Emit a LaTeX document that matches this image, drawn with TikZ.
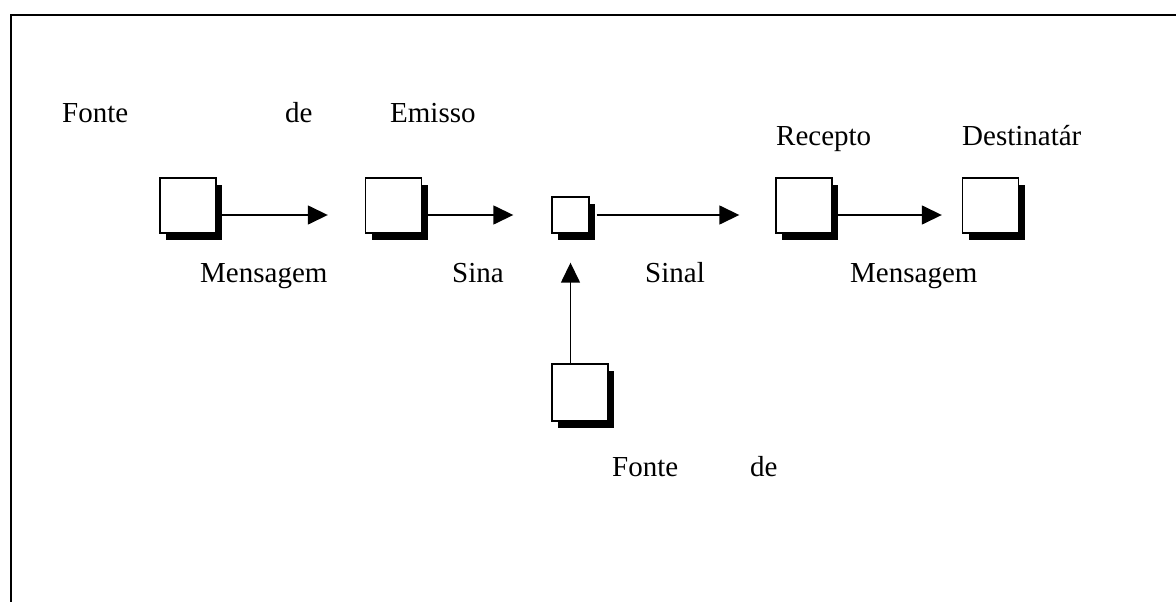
\documentclass[tikz,border=0pt]{standalone}
\usepackage{fontspec}
\setmainfont{Liberation Serif}
\usetikzlibrary{arrows.meta,shadows}
\begin{document}
\begin{tikzpicture}[x=1pt,y=-1pt,
  blk/.style={draw=black,line width=1.4pt,fill=white,inner sep=0pt,
    drop shadow={shadow xshift=6pt,shadow yshift=-7pt,fill=black,opacity=1}},
  big/.style={blk,minimum width=56pt,minimum height=55pt},
  small/.style={blk,minimum width=37pt,minimum height=36pt},
  conn/.style={line width=1.5pt,-{Triangle[length=20pt,width=19pt]}},
  lbl/.style={anchor=base west,inner sep=0pt,font=\fontsize{29}{32}\selectfont}]
\useasboundingbox (0,0) rectangle (1176,602);
\draw[line width=2.5pt] (11,602) -- (11,15) -- (1176,15);
% boxes
\node[big] (b1) at (188,205.5) {};
\node[big] (b2) at (393.5,205.5) {};
\node[small] (b3) at (570.5,215) {};
\node[big] (b4) at (804,205.5) {};
\node[big] (b5) at (990.5,205.5) {};
\node[big,minimum height=57pt] (b6) at (580,392.5) {};
% connectors
\draw[conn,shorten >=37pt] (b1.east |- b3) -- (b2.west |- b3);
\draw[conn,shorten >=38pt] (b2.east |- b3) -- (b3.west);
\draw[conn,shorten >=36pt,shorten <=7pt] (b3.east) -- (b4.west |- b3);
\draw[conn,shorten >=20pt] (b4.east |- b3) -- (b5.west |- b3);
\draw[conn,shorten >=29pt] (b3.south |- b6.north) -- (b3.south);
% labels
\node[lbl] (t1) at (62,122) {Fonte};
\node[lbl] (t2) at (285,122) {de};
\node[lbl] (t3) at (390,122) {Emisso};
\node[lbl] (t4) at (776,145) {Recepto};
\node[lbl] (t5) at (962,145) {Destinatár};
\node[lbl] (t6) at (200,282) {Mensagem};
\node[lbl] (t7) at (452,282) {Sina};
\node[lbl] (t8) at (645,282) {Sinal};
\node[lbl] (t9) at (850,282) {Mensagem};
\node[lbl] (t10) at (612,476) {Fonte};
\node[lbl] (t11) at (750,476) {de};
\end{tikzpicture}
\end{document}
